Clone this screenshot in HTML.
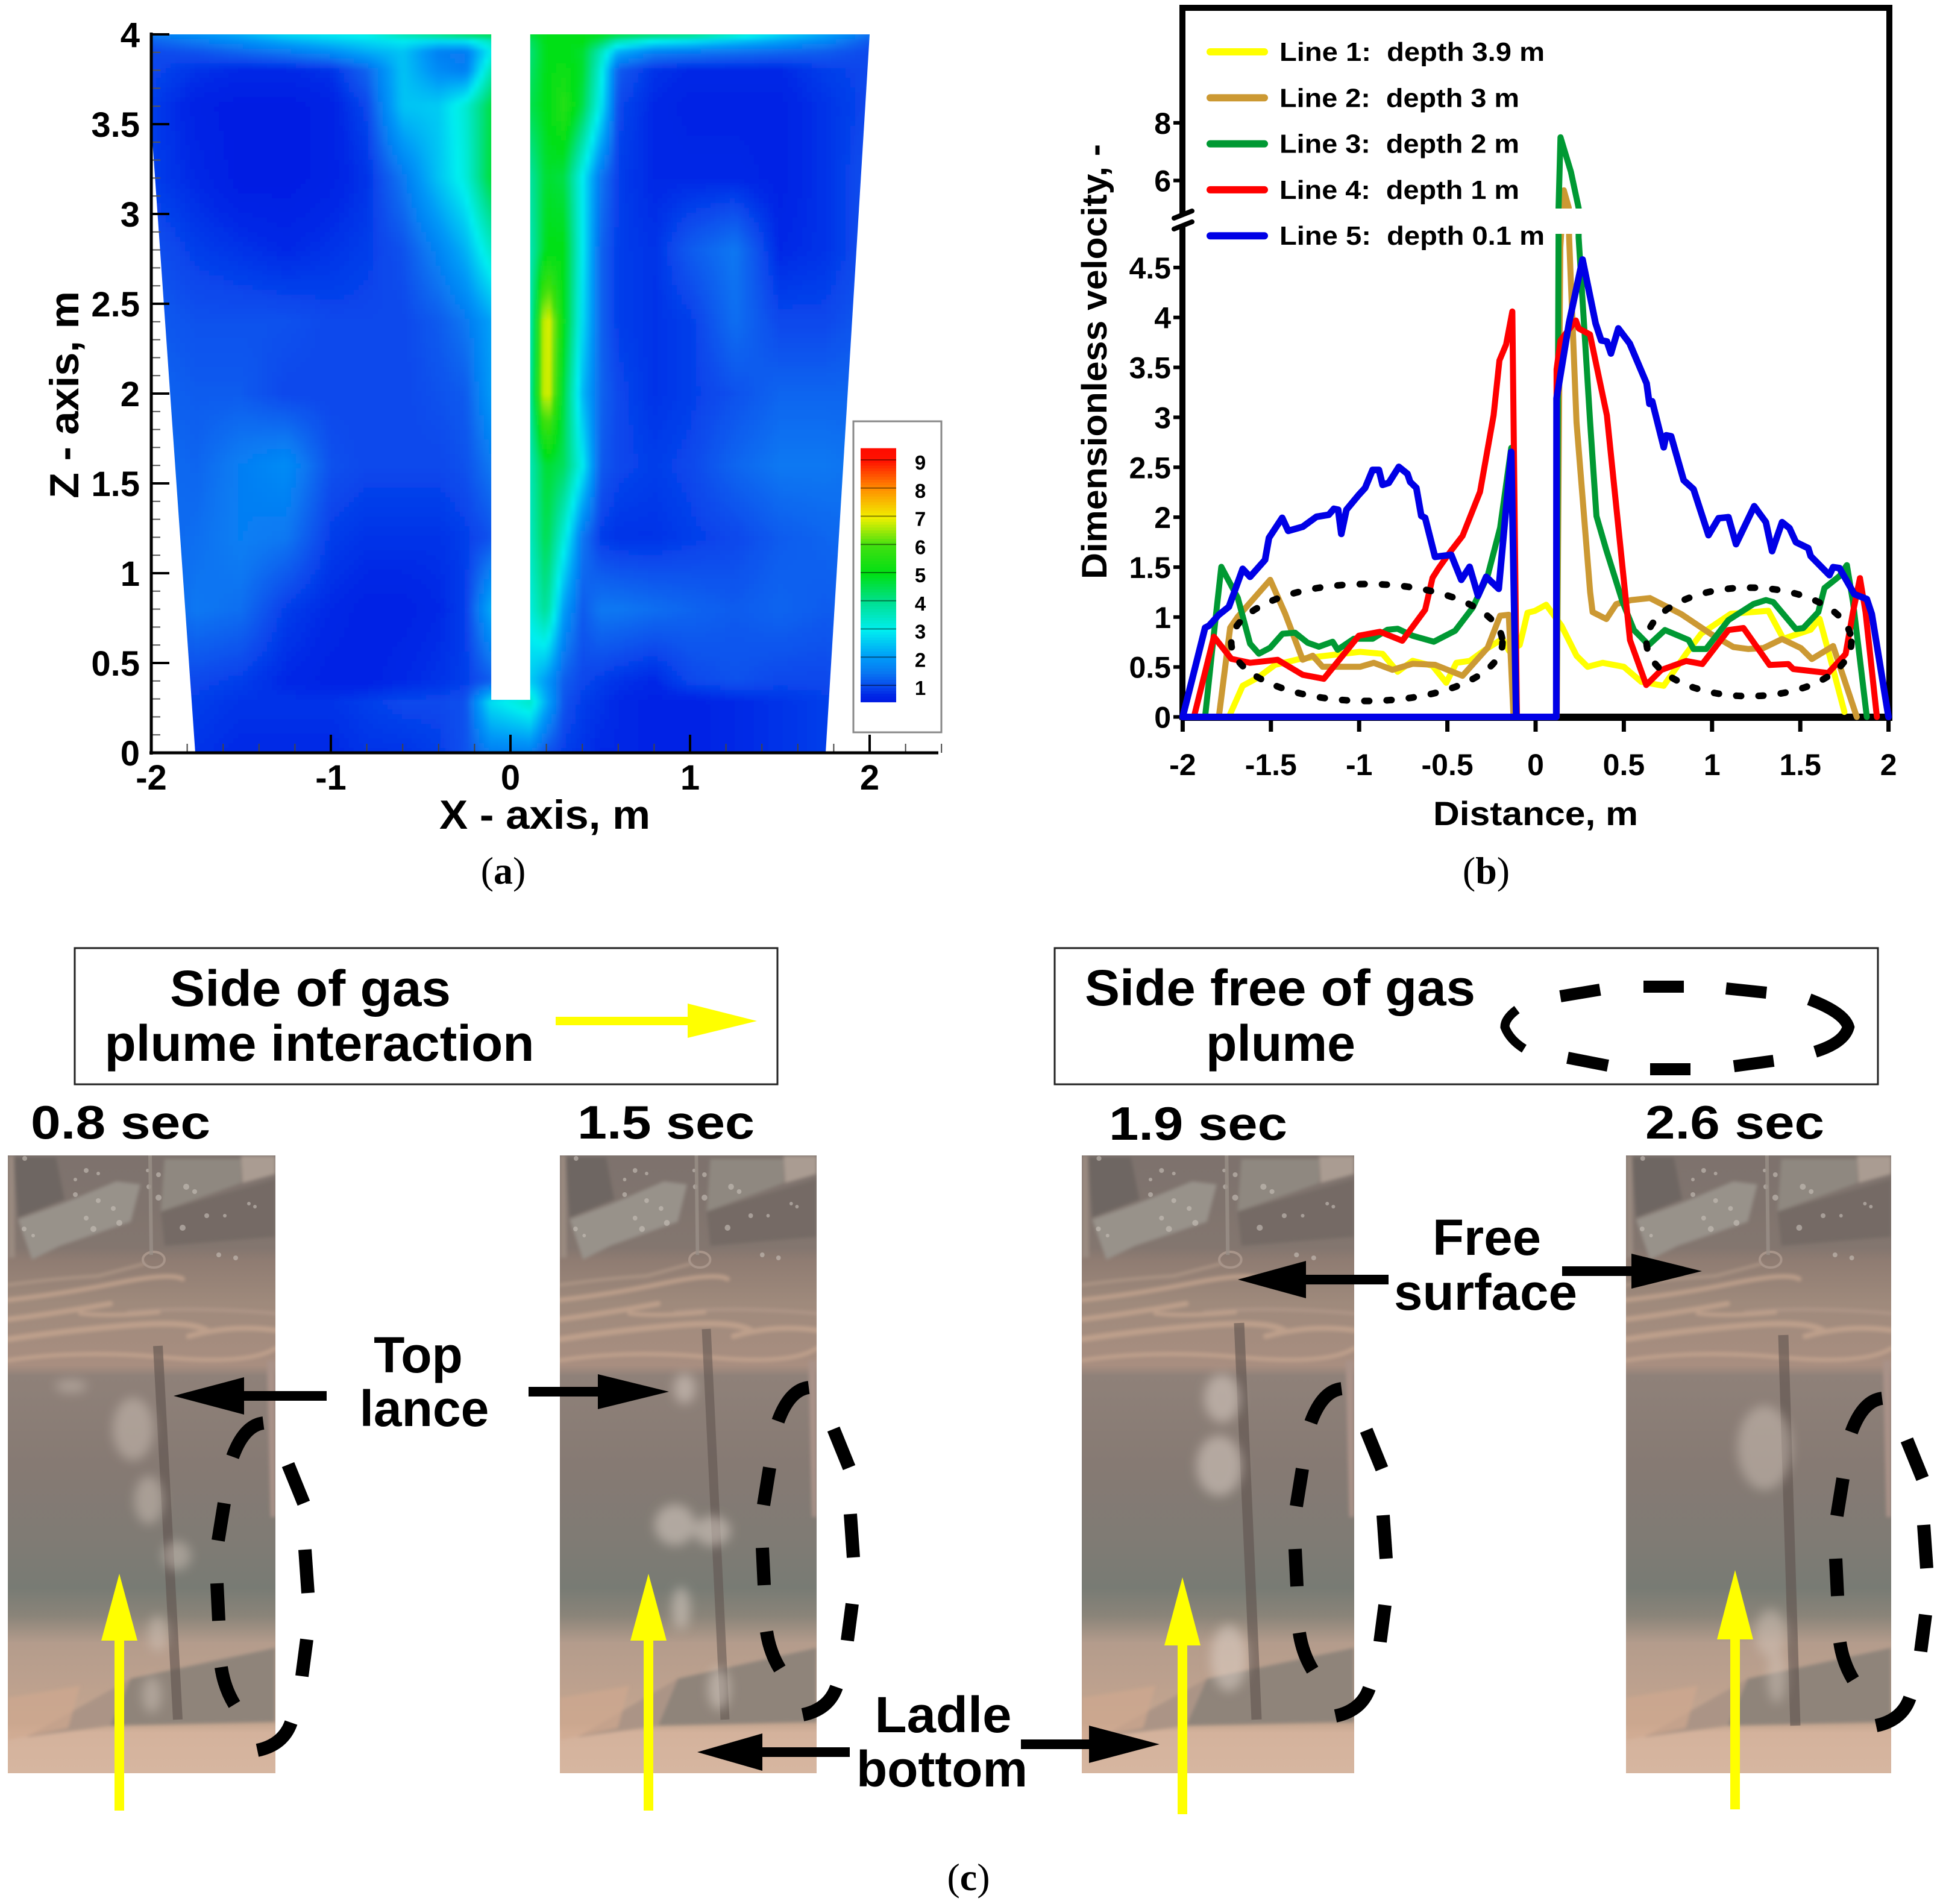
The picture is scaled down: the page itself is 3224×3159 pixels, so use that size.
<!DOCTYPE html>
<html lang="en">
<head>
<meta charset="utf-8">
<title>Velocity field, velocity profiles and plume photographs</title>
<style>
html,body{margin:0;padding:0;background:#fff;}
svg{display:block;}
text{font-family:"Liberation Sans",Arial,sans-serif;font-weight:bold;fill:#000;white-space:pre;}
.cap{font-family:"Liberation Serif","Times New Roman",serif;font-weight:normal;font-size:64px;}
.cap tspan{font-weight:bold;}
.big{font-size:84px;}
</style>
</head>
<body>
<svg id="root" xmlns="http://www.w3.org/2000/svg" width="3224" height="3159" viewBox="0 0 3224 3159">
<defs>
  <filter id="blur3" x="-5%" y="-5%" width="110%" height="110%"><feGaussianBlur stdDeviation="3"/></filter>
  <filter id="blurS" x="-20%" y="-20%" width="140%" height="140%"><feGaussianBlur stdDeviation="3"/></filter>
  <filter id="blurP" x="-60%" y="-60%" width="220%" height="220%"><feGaussianBlur stdDeviation="9"/></filter>
  <linearGradient id="photoGrad" x1="0" y1="0" x2="0" y2="1">
    <stop offset="0" stop-color="#7d726d"/>
    <stop offset=".15" stop-color="#83766f"/>
    <stop offset=".17" stop-color="#8f7c72"/>
    <stop offset=".24" stop-color="#9f8a7c"/>
    <stop offset=".34" stop-color="#a88e80"/>
    <stop offset=".357" stop-color="#8f8179"/>
    <stop offset=".5" stop-color="#867a73"/>
    <stop offset=".63" stop-color="#7f7b74"/>
    <stop offset=".70" stop-color="#787b74"/>
    <stop offset=".745" stop-color="#8a8479"/>
    <stop offset=".79" stop-color="#b49c8c"/>
    <stop offset=".86" stop-color="#bda18e"/>
    <stop offset=".92" stop-color="#c4a690"/>
    <stop offset=".935" stop-color="#d4b29c"/>
    <stop offset="1" stop-color="#d6b6a0"/>
  </linearGradient>
  <clipPath id="photoClip"><rect x="0" y="0" width="444" height="1025"/></clipPath>
  <g id="photoBase" clip-path="url(#photoClip)">
    <rect x="0" y="0" width="444" height="1025" fill="url(#photoGrad)"/>
    <g filter="url(#blurS)">
      <polygon points="10,3 80,3 94,73 17,103" fill="#6e6662"/>
      <polygon points="254,93 444,40 444,135 260,150" fill="#746a65"/>
      <polygon points="260,6 387,6 387,46 254,93" fill="#8f8880"/>
      <polygon points="17,106 90,80 180,43 220,48 204,110 87,150 40,173" fill="#98928a"/>
      <polygon points="387,1 444,1 444,31 389,46" fill="#aa9c92"/>
      <polygon points="0,0 10,0 12,170 0,170" fill="#9a8a80"/>
      <polygon points="430,340 444,340 444,600 436,600" fill="#a99288"/>
      <polygon points="204,868 444,817 444,940 170,946" fill="#8f847a"/>
      <polygon points="30,965 204,868 170,946" fill="#ab9486"/>
      <polygon points="0,900 120,880 100,950 0,970" fill="#cfa88e" opacity=".7"/>
    </g>
    <g fill="none" stroke="#c6a690" stroke-linecap="round" opacity=".75" filter="url(#blurS)">
      <path d="M0 215 Q70 205 150 200 L226 180" stroke="#b49b8a" stroke-width="5"/>
      <path d="M0 240 Q90 230 180 212 T290 205" stroke-width="8"/>
      <path d="M0 272 Q80 262 170 246" stroke-width="9"/>
      <path d="M200 260 Q300 250 444 262" stroke="#b2998a" stroke-width="6"/>
      <path d="M0 305 Q100 290 200 282 T330 290" stroke-width="10"/>
      <path d="M120 262 Q170 268 250 260" stroke-width="7"/>
      <path d="M300 300 Q370 280 444 290" stroke-width="9"/>
      <path d="M0 340 Q120 322 260 335 T444 320" stroke-width="7"/>
    </g>
    <g fill="#c9c2ba" opacity=".6">
      <circle cx="28" cy="5" r="4"/><circle cx="130" cy="25" r="4"/><circle cx="150" cy="30" r="3"/><circle cx="112" cy="40" r="3"/><circle cx="112" cy="65" r="4"/>
      <circle cx="150" cy="75" r="4"/><circle cx="175" cy="88" r="4"/><circle cx="130" cy="104" r="4"/><circle cx="142" cy="122" r="5"/><circle cx="185" cy="112" r="5"/>
      <circle cx="232" cy="25" r="3"/><circle cx="250" cy="32" r="4"/><circle cx="234" cy="52" r="4"/><circle cx="250" cy="70" r="5"/><circle cx="296" cy="52" r="5"/>
      <circle cx="310" cy="60" r="4"/><circle cx="330" cy="100" r="4"/><circle cx="290" cy="120" r="5"/><circle cx="360" cy="100" r="3"/><circle cx="400" cy="80" r="3"/>
      <circle cx="27" cy="122" r="4"/><circle cx="42" cy="133" r="3"/><circle cx="350" cy="165" r="4"/><circle cx="378" cy="170" r="4"/><circle cx="410" cy="85" r="3"/>
    </g>
    <ellipse cx="242" cy="173" rx="18" ry="13" fill="none" stroke="#a8958a" stroke-width="4"/>
    <line x1="236" y1="0" x2="238" y2="165" stroke="#9a9088" stroke-width="6" opacity=".8"/>
  </g>
</defs>

<g id="panelA">
  <g id="heatField" filter="url(#blur3)"></g>
  <g id="aAxes"></g>
  <text x="904" y="1375" text-anchor="middle" font-size="68" textLength="350" lengthAdjust="spacingAndGlyphs">X - axis, m</text>
  <text transform="translate(130,655) rotate(-90)" text-anchor="middle" font-size="68" textLength="344" lengthAdjust="spacingAndGlyphs">Z - axis, m</text>
  <g id="aLegend"></g>
  <text class="cap" x="835" y="1466" text-anchor="middle">(<tspan>a</tspan>)</text>
</g>

<g id="panelB">
  <g id="bAxes"></g>
  <g id="bSeries"></g>
  <g id="bLegend"></g>
  <text x="2548" y="1369" text-anchor="middle" font-size="56" textLength="340" lengthAdjust="spacingAndGlyphs">Distance, m</text>
  <text transform="translate(1836,600) rotate(-90)" text-anchor="middle" font-size="58" textLength="722" lengthAdjust="spacingAndGlyphs">Dimensionless velocity, -</text>
  <text class="cap" x="2466" y="1466" text-anchor="middle">(<tspan>b</tspan>)</text>
</g>

<g id="panelC">
  <g>
    <rect x="124" y="1573" width="1166" height="226" fill="#fff" stroke="#222" stroke-width="3"/>
    <text class="big" x="515" y="1669" text-anchor="middle" textLength="466" lengthAdjust="spacingAndGlyphs">Side of gas</text>
    <text class="big" x="530" y="1760" text-anchor="middle" textLength="713" lengthAdjust="spacingAndGlyphs">plume interaction</text>
    <polygon points="922,1687 1141,1687 1141,1665 1256,1694 1141,1722 1141,1701 922,1701" fill="#ffff00"/>
  </g>
  <g>
    <rect x="1750" y="1573" width="1366" height="226" fill="#fff" stroke="#222" stroke-width="3"/>
    <text class="big" x="2124" y="1668" text-anchor="middle" textLength="648" lengthAdjust="spacingAndGlyphs">Side free of gas</text>
    <text class="big" x="2125" y="1760" text-anchor="middle" textLength="248" lengthAdjust="spacingAndGlyphs">plume</text>
    <g fill="none" stroke="#000" stroke-width="20">
      <path d="M2589 1653 L2655 1642"/>
      <path d="M2727 1637 L2794 1637"/>
      <path d="M2864 1640 L2931 1647"/>
      <path d="M3002 1658 Q3060 1680 3067 1704 Q3060 1730 3012 1745"/>
      <path d="M2877 1769 L2943 1760"/>
      <path d="M2738 1774 L2805 1774"/>
      <path d="M2601 1755 L2668 1768"/>
      <path d="M2517 1675 Q2497 1690 2497 1704 Q2505 1725 2529 1740" stroke-width="15"/>
    </g>
  </g>

  <text x="51" y="1889" font-size="78" textLength="298" lengthAdjust="spacingAndGlyphs">0.8 sec</text>
  <text x="958" y="1889" font-size="78" textLength="294" lengthAdjust="spacingAndGlyphs">1.5 sec</text>
  <text x="1840" y="1891" font-size="78" textLength="296" lengthAdjust="spacingAndGlyphs">1.9 sec</text>
  <text x="2730" y="1889" font-size="78" textLength="297" lengthAdjust="spacingAndGlyphs">2.6 sec</text>

  <g>
    <use href="#photoBase" transform="translate(13,1917)"/>
    <line x1="262" y1="2233" x2="295" y2="2853" stroke="#5f534e" stroke-width="16" opacity=".6"/>
    <g fill="#d8cbc0" opacity=".45" filter="url(#blurP)">
      <ellipse cx="118" cy="2300" rx="26" ry="10"/><ellipse cx="221" cy="2371" rx="34" ry="52"/><ellipse cx="247" cy="2489" rx="24" ry="40"/><ellipse cx="293" cy="2581" rx="24" ry="24"/><ellipse cx="262" cy="2710" rx="16" ry="30"/><ellipse cx="252" cy="2812" rx="16" ry="30"/>
    </g>
  </g>
  <g>
    <use href="#photoBase" transform="translate(929,1917) scale(0.9595,1)"/>
    <line x1="1172" y1="2205" x2="1203" y2="2853" stroke="#5f534e" stroke-width="15" opacity=".55"/>
    <g fill="#e2d6cc" opacity=".5" filter="url(#blurP)">
      <ellipse cx="1136" cy="2304" rx="18" ry="25"/><ellipse cx="1120" cy="2530" rx="34" ry="34"/><ellipse cx="1182" cy="2540" rx="30" ry="25"/><ellipse cx="1130" cy="2668" rx="15" ry="35"/><ellipse cx="1193" cy="2802" rx="18" ry="35"/>
    </g>
  </g>
  <g>
    <use href="#photoBase" transform="translate(1795,1917) scale(1.018,1)"/>
    <line x1="2056" y1="2195" x2="2085" y2="2853" stroke="#5f534e" stroke-width="17" opacity=".6"/>
    <g fill="#e2d6cc" opacity=".5" filter="url(#blurP)">
      <ellipse cx="2028" cy="2320" rx="30" ry="40"/><ellipse cx="2023" cy="2432" rx="38" ry="50"/><ellipse cx="2039" cy="2751" rx="30" ry="55"/>
    </g>
  </g>
  <g>
    <use href="#photoBase" transform="translate(2698,1917) scale(0.991,1)"/>
    <line x1="2959" y1="2215" x2="2979" y2="2863" stroke="#5f534e" stroke-width="17" opacity=".6"/>
    <g fill="#d8cbc0" opacity=".45" filter="url(#blurP)">
      <ellipse cx="2928" cy="2402" rx="45" ry="70"/><ellipse cx="2938" cy="2710" rx="25" ry="40"/><ellipse cx="2948" cy="2781" rx="15" ry="45"/>
    </g>
  </g>

  <g id="sideEllipses">
    <g id="sideE" fill="none" stroke="#000" stroke-width="22">
      <path d="M437 2361 Q405 2365 386 2417"/>
      <path d="M372 2494 L362 2556"/>
      <path d="M360 2627 L363 2689"/>
      <path d="M367 2766 Q372 2800 389 2828"/>
      <path d="M483 2858 Q470 2895 427 2904"/>
      <path d="M501 2781 L509 2720"/>
      <path d="M511 2643 L506 2571"/>
      <path d="M504 2494 L478 2430"/>
    </g>
    <use href="#sideE" transform="translate(905,-59)"/>
    <use href="#sideE" transform="translate(1789,-57)"/>
    <use href="#sideE" transform="translate(2686,-41)"/>
  </g>

  <g fill="#ffff00">
    <polygon points="190,3004 190,2722 168,2722 198,2611 228,2722 206,2722 206,3004"/>
    <polygon points="1068,3004 1068,2722 1046,2722 1076,2611 1106,2722 1084,2722 1084,3004"/>
    <polygon points="1954,3010 1954,2730 1932,2730 1962,2617 1992,2730 1970,2730 1970,3010"/>
    <polygon points="2871,3002 2871,2720 2849,2720 2879,2605 2909,2720 2887,2720 2887,3002"/>
  </g>

  <g fill="#000">
    <text class="big" x="694" y="2277" text-anchor="middle">Top</text>
    <text class="big" x="704" y="2366" text-anchor="middle">lance</text>
    <polygon points="542,2308 405,2308 405,2347 288,2316 405,2285 405,2324 542,2324"/>
    <polygon points="877,2301 992,2301 992,2280 1110,2309 992,2338 992,2317 877,2317"/>
    <text class="big" x="2467" y="2082" text-anchor="middle" textLength="180" lengthAdjust="spacingAndGlyphs">Free</text>
    <text class="big" x="2465" y="2173" text-anchor="middle" textLength="304" lengthAdjust="spacingAndGlyphs">surface</text>
    <polygon points="2304,2115 2167,2115 2167,2092 2054,2123 2167,2154 2167,2131 2304,2131"/>
    <polygon points="2592,2101 2707,2101 2707,2080 2824,2109 2707,2138 2707,2117 2592,2117"/>
    <text class="big" x="1565" y="2874" text-anchor="middle" textLength="227" lengthAdjust="spacingAndGlyphs">Ladle</text>
    <text class="big" x="1563" y="2964" text-anchor="middle" textLength="284" lengthAdjust="spacingAndGlyphs">bottom</text>
    <polygon points="1410,2899 1265,2899 1265,2876 1157,2907 1265,2938 1265,2915 1410,2915"/>
    <polygon points="1694,2886 1807,2886 1807,2863 1924,2894 1807,2925 1807,2902 1694,2902"/>
  </g>
  <text class="cap" x="1607" y="3136" text-anchor="middle">(<tspan>c</tspan>)</text>
</g>
</svg>

<script>
/* ---------- Panel (a): velocity field values ---------- */
const fieldXNodes = [-2,-1.75,-1.5,-1.25,-1,-0.8,-0.6,-0.4,-0.25,-0.11,0.11,0.2,0.3,0.4,0.5,0.6,0.8,1,1.25,1.5,1.75,2];
const fieldZNodes = [4,3.97,3.9,3.8,3.6,3.2,2.8,2.4,2,1.6,1.2,0.8,0.4,0.28,0];
const fieldValues = [
 [1.6,1.9,2.3,2.8,3,3.2,3.8,4.4,4.8,4.8,4.8,5,5,5,5,4.8,4.6,4.4,3.6,2.8,2.2,1.5],
 [1.3,1.6,1.9,2.3,2.6,2.8,3,2.9,3,3.6,4.4,5,5,5,4.6,3.8,3.2,3,2.6,2.2,1.8,1.2],
 [1,1.1,1.3,1.5,1.8,2.2,2.5,1.6,1.5,3,4.2,5,5,4.8,3.6,2.2,1.6,1.5,1.4,1.3,1.2,1],
 [1,0.8,0.7,0.7,0.8,1.3,2.5,1.8,1.6,3.6,4.3,5,5.2,4.8,3.3,1.2,0.8,0.7,0.7,0.7,0.9,1],
 [0.9,0.6,0.5,0.5,0.6,1,2.5,2.6,3.3,4.6,4.5,5,5.6,4.6,3,1,0.7,0.6,0.6,0.6,0.8,1],
 [0.9,0.7,0.5,0.5,0.6,0.8,1.5,2.5,3.2,4.7,3.8,4.8,4.6,3,1.5,0.9,0.7,0.7,0.7,0.6,0.8,1.1],
 [1.1,0.9,0.8,0.7,0.8,0.9,1.1,1.7,2.3,3.4,3.6,5,5,3,1.3,0.9,0.8,1.2,1.5,0.7,0.8,1.1],
 [1.2,1.1,1.1,1.1,1,1,1,1.2,1.5,2.1,3.6,7.2,5,2.8,1.3,0.9,0.8,0.9,1.4,1,1,1.2],
 [1.3,1.2,1.2,1,1,1,1,1.1,1.2,2,3.8,7.2,4.6,2.4,1.3,1,0.8,0.9,1.1,1.3,1.3,1.3],
 [1.4,1.3,1.6,1.8,1.1,1,1,1,1.1,1.5,3.6,4.8,4.4,3,1.2,1,0.9,1,1.3,1.5,1.5,1.4],
 [1.3,1.4,1.6,1.5,0.9,0.8,0.8,0.8,0.9,1.1,3.5,4.6,3.2,1.5,0.9,0.8,0.8,0.9,1,1.2,1.3,1.4],
 [1.2,1.5,1.4,0.9,0.7,0.6,0.6,0.7,0.9,2.2,3.2,4,2,1.2,1.5,1.5,1.4,1.3,1.2,1.3,1.2,1.3],
 [1,1,0.9,0.7,0.6,0.6,0.7,0.8,0.9,1.2,2.6,2,1.2,1,0.9,0.8,0.7,1,1.1,1,1,1.2],
 [1,0.9,0.8,0.8,0.8,0.9,1,1,1.1,2.8,3.4,2.2,1.1,0.9,0.8,0.7,0.6,0.6,0.7,0.8,0.9,1.1],
 [1,0.8,0.7,0.7,0.7,0.8,0.8,0.9,1.1,1.6,1.6,1.1,0.9,0.8,0.7,0.7,0.6,0.6,0.7,0.8,0.9,0.9]
];
const colorLevels = [0.3,0.7,1,1.5,2,3,4,5,6,7,8,9,10];
const colorValues = ['#0010e0','#0028e6','#0848ec','#0878f2','#0098f8','#00eef0','#00e090','#00e014','#40e010','#f0f000','#ff9000','#ff1400','#ff0000'];
const aXTicks = [-2,-1,0,1,2];
const aZTicks = ['0','0.5','1','1.5','2','2.5','3','3.5','4'];
const legendLevels = [1,2,3,4,5,6,7,8,9];

/* ---------- Panel (b): profile values [distance m, velocity] ---------- */
const line1Points = [[-1.738,0],[-1.66,0.312],[-1.575,0.392],[-1.476,0.522],[-1.334,0.582],[-1.193,0.612],[-0.995,0.652],[-0.867,0.632],[-0.782,0.452],[-0.697,0.562],[-0.584,0.512],[-0.506,0.342],[-0.449,0.542],[-0.372,0.562],[-0.286,0.673],[-0.187,0.783],[-0.15,0.66],[-0.09,0.72],[-0.074,0.833],[-0.046,1.043],[-0.003,1.063],[0.06,1.123],[0.147,0.913],[0.232,0.613],[0.295,0.502],[0.38,0.542],[0.5,0.502],[0.599,0.352],[0.726,0.312],[0.853,0.633],[0.938,0.833],[1.107,1.033],[1.319,1.063],[1.404,0.783],[1.559,0.873],[1.609,0.983],[1.672,0.572],[1.75,0.05]];
const line2Points = [[-1.795,0],[-1.731,0.893],[-1.688,1.003],[-1.504,1.373],[-1.419,1.033],[-1.32,0.573],[-1.263,0.613],[-1.207,0.502],[-0.995,0.502],[-0.917,0.542],[-0.811,0.472],[-0.697,0.532],[-0.57,0.522],[-0.414,0.412],[-0.272,0.693],[-0.201,1.013],[-0.152,1.023],[-0.125,0],[0.12,0],[0.14,4.7],[0.16,5.66],[0.188,5.06],[0.19,4.8],[0.232,2.95],[0.309,1.25],[0.323,1.05],[0.401,0.98],[0.457,1.13],[0.542,1.17],[0.648,1.19],[0.825,1.03],[0.994,0.83],[1.121,0.7],[1.206,0.68],[1.291,0.69],[1.397,0.78],[1.503,0.69],[1.566,0.58],[1.686,0.71],[1.82,0]];
const line3Points = [[-1.873,0],[-1.823,0.833],[-1.781,1.503],[-1.688,1.193],[-1.618,0.733],[-1.568,0.633],[-1.504,0.693],[-1.434,0.833],[-1.363,0.843],[-1.292,0.743],[-1.228,0.703],[-1.15,0.753],[-1.122,0.673],[-1.03,0.783],[-0.924,0.783],[-0.839,0.873],[-0.782,0.883],[-0.697,0.813],[-0.577,0.753],[-0.456,0.863],[-0.357,1.093],[-0.272,1.413],[-0.201,1.893],[-0.138,2.694],[-0.106,0],[0.119,0],[0.13,4.8],[0.13,5.05],[0.141,7.5],[0.2,6.3],[0.244,5.05],[0.244,4.8],[0.309,2.95],[0.345,2.01],[0.401,1.67],[0.493,1.15],[0.557,0.87],[0.641,0.72],[0.733,0.87],[0.867,0.77],[0.895,0.68],[0.966,0.68],[1.093,0.97],[1.234,1.13],[1.305,1.17],[1.347,1.15],[1.475,0.88],[1.517,0.89],[1.602,1.05],[1.637,1.29],[1.722,1.41],[1.764,1.52],[1.799,1.15],[1.877,0]];
const line4Points = [[-1.936,0],[-1.823,0.803],[-1.724,0.582],[-1.618,0.542],[-1.462,0.572],[-1.32,0.422],[-1.2,0.382],[-1.002,0.813],[-0.881,0.853],[-0.755,0.763],[-0.626,1.073],[-0.584,1.393],[-0.548,1.493],[-0.484,1.653],[-0.414,1.813],[-0.315,2.254],[-0.238,3.02],[-0.205,3.57],[-0.167,3.73],[-0.132,4.06],[-0.106,0],[0.119,0],[0.119,3.48],[0.141,3.77],[0.228,3.97],[0.244,3.89],[0.308,3.83],[0.404,3.02],[0.535,0.77],[0.627,0.32],[0.712,0.47],[0.853,0.56],[0.945,0.53],[1.093,0.87],[1.178,0.89],[1.326,0.52],[1.432,0.53],[1.46,0.48],[1.658,0.44],[1.757,0.63],[1.799,1.05],[1.838,1.39],[1.87,1.05],[1.934,0]];
const line5Points = [[-2,0],[-1.873,0.893],[-1.851,0.913],[-1.795,1.023],[-1.738,1.103],[-1.703,1.273],[-1.66,1.483],[-1.618,1.403],[-1.533,1.573],[-1.511,1.793],[-1.436,1.994],[-1.402,1.863],[-1.32,1.904],[-1.242,2.004],[-1.172,2.024],[-1.143,2.084],[-1.119,2.074],[-1.101,1.833],[-1.072,2.074],[-1.03,2.164],[-1.002,2.224],[-0.966,2.294],[-0.924,2.474],[-0.888,2.474],[-0.867,2.324],[-0.832,2.344],[-0.775,2.504],[-0.726,2.434],[-0.711,2.354],[-0.676,2.294],[-0.648,2.014],[-0.626,1.994],[-0.57,1.603],[-0.478,1.623],[-0.421,1.373],[-0.374,1.503],[-0.326,1.213],[-0.28,1.403],[-0.209,1.283],[-0.138,2.654],[-0.11,0],[0.117,0],[0.119,3.19],[0.19,3.95],[0.266,4.58],[0.34,3.94],[0.372,3.77],[0.404,3.76],[0.427,3.64],[0.469,3.89],[0.533,3.74],[0.629,3.34],[0.645,3.135],[0.661,3.16],[0.726,2.7],[0.74,2.82],[0.768,2.81],[0.839,2.37],[0.895,2.28],[0.98,1.82],[1.037,1.99],[1.093,2],[1.136,1.73],[1.239,2.11],[1.305,1.95],[1.34,1.66],[1.397,1.95],[1.439,1.89],[1.475,1.75],[1.545,1.69],[1.559,1.61],[1.665,1.42],[1.686,1.5],[1.722,1.49],[1.806,1.23],[1.877,1.18],[1.905,1.03],[2,0]];
const line5Baseline = [[-2,0],[0.117,0]];
const bXTicks = ['-2','-1.5','-1','-0.5','0','0.5','1','1.5','2'];
const bYTicksLower = ['0','0.5','1','1.5','2','2.5','3','3.5','4','4.5'];
const bYTicksUpper = ['6','8'];
const legendLabels = ['Line 1:  depth 3.9 m','Line 2:  depth 3 m','Line 3:  depth 2 m','Line 4:  depth 1 m','Line 5:  depth 0.1 m'];
const lineColors = ['#ffff00','#cc9933','#009933','#ff0000','#0000e6'];

/* ---------- helpers ---------- */
const NS = 'http://www.w3.org/2000/svg';
function mk(tag, attrs, parent, txt){
  const el = document.createElementNS(NS, tag);
  for (const k in attrs) el.setAttribute(k, attrs[k]);
  if (txt !== undefined) el.textContent = txt;
  parent.appendChild(el);
  return el;
}
function hexRgb(h){ return [parseInt(h.substr(1,2),16),parseInt(h.substr(3,2),16),parseInt(h.substr(5,2),16)]; }
function colorOf(v){
  if (v <= colorLevels[0]) return colorValues[0];
  for (let i = 1; i < colorLevels.length; i++){
    if (v <= colorLevels[i]){
      const t = (v - colorLevels[i-1]) / (colorLevels[i] - colorLevels[i-1]);
      const a = hexRgb(colorValues[i-1]), b = hexRgb(colorValues[i]);
      return 'rgb(' + Math.round(a[0]+(b[0]-a[0])*t) + ',' + Math.round(a[1]+(b[1]-a[1])*t) + ',' + Math.round(a[2]+(b[2]-a[2])*t) + ')';
    }
  }
  return colorValues[colorValues.length-1];
}
function nodeIndexAsc(nodes, v){
  let i = 0;
  while (i < nodes.length-2 && v > nodes[i+1]) i++;
  return i;
}
function nodeIndexDesc(nodes, v){
  let i = 0;
  while (i < nodes.length-2 && v < nodes[i+1]) i++;
  return i;
}
function fieldAt(x, z){
  const i = nodeIndexAsc(fieldXNodes, x), j = nodeIndexDesc(fieldZNodes, z);
  const tx = Math.min(1, Math.max(0, (x - fieldXNodes[i]) / (fieldXNodes[i+1] - fieldXNodes[i])));
  const tz = Math.min(1, Math.max(0, (z - fieldZNodes[j]) / (fieldZNodes[j+1] - fieldZNodes[j])));
  const a = fieldValues[j][i]*(1-tx) + fieldValues[j][i+1]*tx;
  const b = fieldValues[j+1][i]*(1-tx) + fieldValues[j+1][i+1]*tx;
  return a*(1-tz) + b*tz;
}

/* ---------- Panel (a) ---------- */
const ax = x => 847 + x * 298;
const az = z => 1249 - z * 298;
const root = document.getElementById('root');
const defs = root.querySelector('defs');
const clip = mk('clipPath', {id:'domainClip'}, defs);
mk('polygon', {points: [[-2,4],[2,4],[1.755,0],[-1.755,0],[-2,3.5]].map(p => ax(p[0]) + ',' + az(p[1])).join(' ')}, clip);

const fieldWrap = document.getElementById('heatField');
const clipWrap = fieldWrap.parentNode.insertBefore(document.createElementNS(NS,'g'), fieldWrap);
clipWrap.setAttribute('clip-path','url(#domainClip)');


clipWrap.appendChild(fieldWrap);
const cell = 8;
for (let px = ax(-2) - 8; px < ax(2) + 8; px += cell){
  for (let py = az(4) - 8; py < az(0) + 8; py += cell){
    const xv = (px + cell/2 - 847) / 298;
    const zv = (1249 - py - cell/2) / 298;
    const c = mk('rect', {x:px, y:py, width:cell+0.6, height:cell+0.6, fill:colorOf(fieldAt(xv, zv))}, fieldWrap);
    
    
  }
}
const lance = mk('rect', {x:ax(-0.107), y:az(4)-6, width:ax(0.11)-ax(-0.107), height:az(0.295)-az(4)+6, fill:'#fff'}, clipWrap.parentNode);



const aAxes = document.getElementById('aAxes');
for (let k = 0; k <= 40; k++){
  const z = k / 10;
  const major = k % 5 === 0;
  const t = mk('line', {x1:ax(-2), x2:ax(-2)+(major?30:15), y1:az(z), y2:az(z), stroke: major?'#000':'#555', 'stroke-width': major?4:2}, aAxes);
  
  
}
for (let k = -10; k <= 12; k++){
  const x = k / 5;
  const major = k % 5 === 0;
  const t = mk('line', {x1:ax(x), x2:ax(x), y1:az(0), y2:az(0)-(major?30:15), stroke: major?'#000':'#444', 'stroke-width': major?4:2}, aAxes);
  
  
}
const aLeft = mk('line', {x1:ax(-2), x2:ax(-2), y1:az(4)-3, y2:az(0)+3, stroke:'#000', 'stroke-width':5}, aAxes);


const aBottom = mk('line', {x1:ax(-2)-3, x2:1557, y1:az(0), y2:az(0), stroke:'#000', 'stroke-width':5}, aAxes);


aXTicks.forEach(v => {
  const t = mk('text', {x:ax(v), y:1310, 'text-anchor':'middle', 'font-size':58}, aAxes, String(v));
  
  
});
aZTicks.forEach(s => {
  const t = mk('text', {x:232, y:az(parseFloat(s))+21, 'text-anchor':'end', 'font-size':58}, aAxes, s);
  
  
});

const aLeg = document.getElementById('aLegend');
const legY = v => 1141 - (v - 1) * 46.75;
const legBox = mk('rect', {x:1416, y:699, width:146, height:516, fill:'#fff', stroke:'#888', 'stroke-width':3}, aLeg);


for (let k = 5; k < 95; k++){
  const v = k / 10;
  const s = mk('rect', {x:1428, y:legY(v+0.1), width:59, height:legY(v)-legY(v+0.1)+0.8, fill:colorOf(v)}, aLeg);
  
  
}
legendLevels.forEach(v => {
  const l = mk('line', {x1:1428, x2:1487, y1:legY(v)-4, y2:legY(v)-4, stroke:'#000', 'stroke-opacity':0.45, 'stroke-width':2}, aLeg);
  
  
  const t = mk('text', {x:1527, y:legY(v)+12, 'text-anchor':'middle', 'font-size':33}, aLeg, String(v));
  
  
});

/* ---------- Panel (b) ---------- */
const bx = x => 2548 + x * 292.8;
function by(v){
  if (v <= 4.8) return 1189.5 - v * 165.7;
  if (v >= 5) return 299.5 + (6 - v) * 47.85;
  const low = 1189.5 - 4.8 * 165.7, high = 299.5 + 47.85;
  return low + (high - low) * (v - 4.8) / 0.2;
}
const bSeries = document.getElementById('bSeries');
function drawLine(points, color, width, name){
  const p = mk('polyline', {points: points.map(q => bx(q[0]).toFixed(1) + ',' + by(q[1]).toFixed(1)).join(' '), fill:'none', stroke:color, 'stroke-width':width, 'stroke-linejoin':'round', 'stroke-linecap':'round'}, bSeries);
  
  
}
drawLine(line1Points, lineColors[0], 10, 'line-1-series');
drawLine(line2Points, lineColors[1], 10, 'line-2-series');
drawLine(line3Points, lineColors[2], 10, 'line-3-series');
drawLine(line4Points, lineColors[3], 10, 'line-4-series');
drawLine(line5Points, lineColors[4], 11, 'line-5-series');
drawLine(line5Baseline, lineColors[4], 11, 'line-5-baseline');

const breakMask = mk('rect', {x:2572, y:346, width:70, height:42, fill:'#fff'}, bSeries);



const ell1 = mk('ellipse', {cx:2268, cy:1066, rx:225, ry:97, fill:'none', stroke:'#000', 'stroke-width':11, 'stroke-linecap':'round', 'stroke-dasharray':'8 29'}, bSeries);


const ell2 = mk('ellipse', {cx:2902, cy:1065, rx:170, ry:90, fill:'none', stroke:'#000', 'stroke-width':11, 'stroke-linecap':'round', 'stroke-dasharray':'8 29'}, bSeries);



const bAxes = document.getElementById('bAxes');
const frame = mk('path', {d:'M1962 1189.5 V13 H3135 V1189.5', fill:'none', stroke:'#000', 'stroke-width':10, 'stroke-linecap':'square'}, bAxes);


const xLine = mk('line', {x1:1962, x2:3140, y1:1190, y2:1190, stroke:'#000', 'stroke-width':12}, bAxes);


bXTicks.forEach(s => {
  const v = parseFloat(s);
  const t = mk('line', {x1:bx(v), x2:bx(v), y1:1190, y2:1214, stroke:'#000', 'stroke-width':7}, bAxes);
  
  
  const l = mk('text', {x:bx(v), y:1286, 'text-anchor':'middle', 'font-size':50}, bAxes, s);
  
  
});
bYTicksLower.concat(bYTicksUpper).forEach(s => {
  const v = parseFloat(s);
  const t = mk('line', {x1:1947, x2:1962, y1:by(v), y2:by(v), stroke:'#000', 'stroke-width':6}, bAxes);
  
  
  const l = mk('text', {x:1943, y:by(v)+18, 'text-anchor':'end', 'font-size':50}, bAxes, s);
  
  
});
const breakWhite = mk('rect', {x:1950, y:357, width:24, height:20, fill:'#fff'}, bAxes);


const break1 = mk('line', {x1:1948, x2:1978, y1:362, y2:350, stroke:'#000', 'stroke-width':8, 'stroke-linecap':'round'}, bAxes);


const break2 = mk('line', {x1:1948, x2:1978, y1:380, y2:368, stroke:'#000', 'stroke-width':8, 'stroke-linecap':'round'}, bAxes);



const bLeg = document.getElementById('bLegend');
const legendWidths = [440,398,398,398,440];
legendLabels.forEach((s, i) => {
  const yy = 86 + i * 76.3;
  const l = mk('line', {x1:2008, x2:2098, y1:yy, y2:yy, stroke:lineColors[i], 'stroke-width':12, 'stroke-linecap':'round'}, bLeg);
  
  
  const t = mk('text', {x:2123, y:yy+15, 'font-size':44, textLength:legendWidths[i], lengthAdjust:'spacingAndGlyphs'}, bLeg, s);
  
  
});
</script>
</body>
</html>
